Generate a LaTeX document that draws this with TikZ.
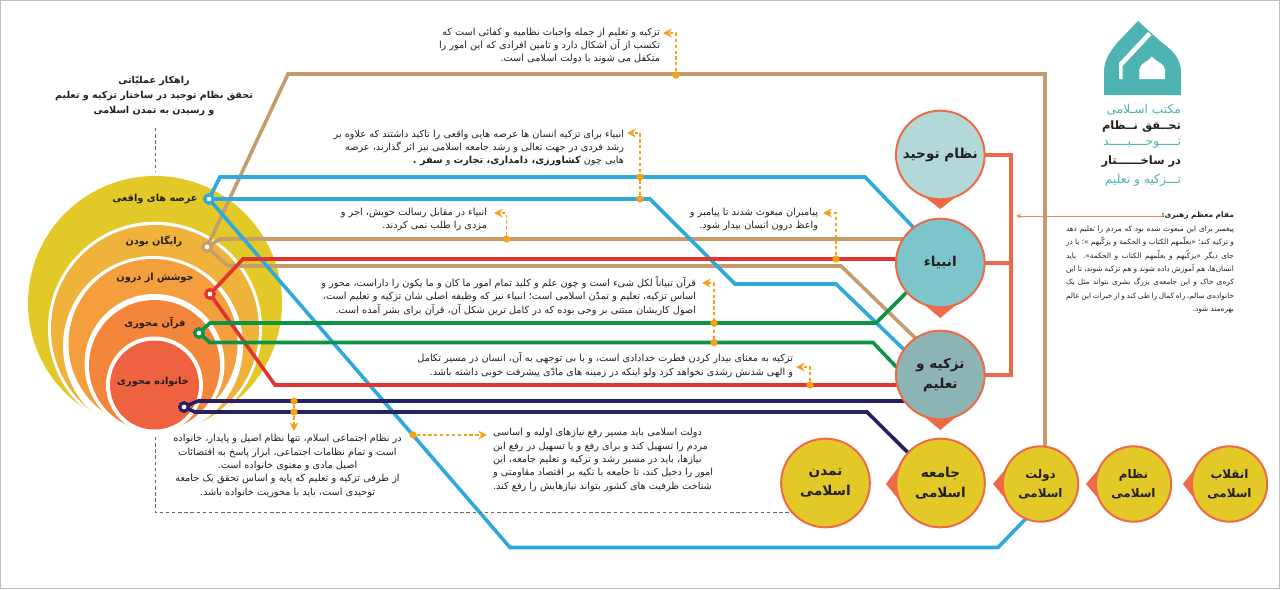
\documentclass[tikz,border=0pt]{standalone}
\usepackage{fontspec}
\usetikzlibrary{arrows.meta,backgrounds}
\TeXXeTstate=1
\newfontfamily\arabicfont[Script=Arabic]{DejaVu Sans}
\newcommand{\fa}[1]{\beginR #1\endR}
\newcommand{\faj}[1]{\hbox to 126pt{\beginR #1\endR}}
\definecolor{cyel}{HTML}{E3C928}
\definecolor{cam}{HTML}{EFB23B}
\definecolor{cor}{HTML}{F59E3E}
\definecolor{cdo}{HTML}{F3863A}
\definecolor{cre}{HTML}{EE6240}
\definecolor{coral}{HTML}{EE6A47}
\definecolor{lblue}{HTML}{2FA8DD}
\definecolor{ltan}{HTML}{C69C6D}
\definecolor{lred}{HTML}{E1332F}
\definecolor{lgreen}{HTML}{0C9444}
\definecolor{lnavy}{HTML}{262262}
\definecolor{ann}{HTML}{F7A11A}
\definecolor{teal}{HTML}{4DB3B3}
\definecolor{ink}{HTML}{231F20}
\tikzset{
  every node/.style={inner sep=0pt,outer sep=0pt,text=ink},
  body/.style={font=\arabicfont\fontsize{7.3}{10}\selectfont},
  lab/.style={font=\arabicfont\bfseries\fontsize{7.3}{10}\selectfont},
  big/.style={circle,draw=coral,line width=1.5pt,minimum size=66.5pt,align=center,
     font=\arabicfont\bfseries\fontsize{10.2}{15}\selectfont},
  small/.style={circle,draw=coral,fill=cyel,line width=1.5pt,minimum size=56.5pt,align=center,
     font=\arabicfont\bfseries\fontsize{8.9}{14}\selectfont},
  ptr/.style={fill=coral},
  stn/.style={circle,fill=white,minimum size=6.4pt,line width=2.4pt,draw=#1},
  metro/.style={draw=#1,line width=2.7pt,line join=miter},
  gdash/.style={draw=black!60,line width=0.75pt,dash pattern=on 2.6pt off 2pt},
  anndot/.style={circle,fill=ann,minimum size=5.5pt},
  annl/.style={draw=ann,line width=1pt,dash pattern=on 2.4pt off 2pt,-{Stealth[length=6.5pt,width=6.5pt]}},
  logot/.style={font=\arabicfont\fontsize{9.2}{10}\selectfont,anchor=east},
  logob/.style={font=\arabicfont\bfseries\fontsize{8.6}{10}\selectfont,anchor=east},
}
\begin{document}
\begin{tikzpicture}[x=0.75pt,y=-0.75pt]
\useasboundingbox (0,0) rectangle (1280,589);
\draw[black!25,line width=0.75pt] (0.5,0.5) rectangle (1279.5,588.5);

% big nodes
\node[big,fill=cyel] (jm) at (940.5,483) {\fa{جامعه}\\\fa{اسلامی}};
\node[big,fill=cyel] (tm) at (825.5,483) {\fa{تمدن}\\\fa{اسلامی}};
\node[small] (dl) at (1040.5,484) {\fa{دولت}\\\fa{اسلامی}};
\node[small] (nz) at (1133.5,484) {\fa{نظام}\\\fa{اسلامی}};
\node[small] (eq) at (1229.5,484) {\fa{انقلاب}\\\fa{اسلامی}};
\node[big,fill={rgb,255:red,179;green,216;blue,216}] (nt) at (940.3,155) {\fa{نظام توحید}};
\node[big,fill={rgb,255:red,123;green,197;blue,203}] (nb) at (940.3,263) {\fa{انبیاء}};
\node[big,fill={rgb,255:red,140;green,180;blue,181}] (tt) at (940.3,375) {\fa{تزکیه و}\\\fa{تعلیم}};

% stations
\node[stn=lblue] (sb) at (209,199) {};
\node[stn=ltan] (st) at (207,247) {};
\node[stn=lred] (sr) at (210,294) {};
\node[stn=lgreen] (sg) at (199,333) {};
\node[stn=lnavy] (sn) at (184,407) {};

\begin{scope}[on background layer]
  % nested circles
  \fill[cyel] (155,303) circle[radius=127];
  \fill[white] (155,328.7) circle[radius=107];
  \fill[cam] (155,329) circle[radius=104];
  \fill[white] (153,346) circle[radius=90];
  \fill[cor] (153,343.5) circle[radius=84.5];
  \fill[white] (154.5,364) circle[radius=70];
  \fill[cdo] (154.5,365.5) circle[radius=65.5];
  \fill[white] (154.5,385) circle[radius=48.5];
  \fill[cre] (154.5,385) circle[radius=44.5];
  % metro lines
  \coordinate (tk) at (1045,74);
  \draw[metro=ltan] (st.center) -- (288,74) -- (tk) -- (tk |- dl.center);
  \draw[metro=ltan] (st.center) -- (220,239) -- (nb.center |- 0,239);
  \draw[metro=ltan] (st.center) -- (228,266) -- (841,266) -- (tt.124);
  \draw[metro=lblue] (sb.center) -- (220,177) -- (865,177) -- (nb.127);
  \draw[metro=lblue] (sb.center) -- (650,199) -- (735,284) -- (836,284) -- (tt.145);
  \draw[metro=lblue] (sb.center) -- (510,547.5) -- (998,547.5) -- (dl.247);
  \draw[metro=lred] (sr.center) -- (243,259) -- (nb.center |- 0,259);
  \draw[metro=lred] (sr.center) -- (275,385) -- (tt.center |- 0,385);
  \draw[metro=lgreen] (sg.center) -- (210,323) -- (876,323) -- (nb.221);
  \draw[metro=lgreen] (sg.center) -- (210,342.5) -- (873,342.5) -- (tt.170);
  \draw[metro=lnavy] (sn.center) -- (198,401) -- (tt.center |- 0,401);
  \draw[metro=lnavy] (sn.center) -- (195,412) -- (867,412) -- (jm.137);
  % pointers
  \fill[ptr] (nt.248) -- (940.3,209) -- (nt.292) -- cycle;
  \fill[ptr] (nb.248) -- (940.3,318) -- (nb.292) -- cycle;
  \fill[ptr] (tt.248) -- (940.3,430) -- (tt.292) -- cycle;
  \fill[ptr] (jm.155) -- (886,484) -- (jm.205) -- cycle;
  \fill[ptr] (dl.155) -- (993,484) -- (dl.205) -- cycle;
  \fill[ptr] (nz.155) -- (1086,484) -- (nz.205) -- cycle;
  \fill[ptr] (eq.155) -- (1183,484) -- (eq.205) -- cycle;
  % bracket
  \draw[draw=coral,line width=2.3pt] (nt.east) -- (1011,155) -- (1011,375) -- (tt.east);
  \draw[draw=coral,line width=2.3pt] (nb.east) -- (1011,263);
  % dashed grey
  \coordinate (gd1) at (155,128);
  \coordinate (gd2) at (155,172);
  \draw[gdash] (gd1) -- (gd2);
  \coordinate (gd3) at (155,437);
  \draw[gdash] (gd3) -- (155,512) -- (tm.center |- 0,512);
\end{scope}

% circle labels
\node[lab] (l1) at (155,199) {\fa{عرصه های واقعی}};
\node[lab] (l2) at (154,241) {\fa{رایگان بودن}};
\node[lab] (l3) at (155,278) {\fa{جوشش از درون}};
\node[lab] (l4) at (155,323) {\fa{قرآن محوری}};
\node[lab] (l5) at (153,382) {\fa{خانواده محوری}};

% title
\node[align=center,font=\arabicfont\bfseries\fontsize{7.2}{11.2}\selectfont] (title) at (154,96)
  {\fa{راهکار عملیّاتی}\\\fa{تحقق نظام توحید در ساختار تزکیه و تعلیم}\\\fa{و رسیدن به تمدن اسلامی}};

% annotations
\node[anndot] (a1d) at (676,75) {};
\coordinate (a1c) at (676,33); \coordinate (a1e) at (663,33);
\draw[annl] (a1d) -- (a1c) -- (a1e);
\node[anndot] (a2d) at (640,199) {};
\node[anndot] (a2b) at (640,177) {};
\coordinate (a2c) at (640,133); \coordinate (a2e) at (627,133);
\draw[annl] (a2d) -- (a2c) -- (a2e);
\node[anndot] (a3d) at (506.5,239) {};
\coordinate (a3c) at (506.5,213); \coordinate (a3e) at (494,213);
\draw[annl] (a3d) -- (a3c) -- (a3e);
\node[anndot] (a4d) at (836,259) {};
\coordinate (a4c) at (836,213); \coordinate (a4e) at (823,213);
\draw[annl] (a4d) -- (a4c) -- (a4e);
\node[anndot] (a5d) at (714,342.5) {};
\node[anndot] (a5b) at (714,323) {};
\coordinate (a5c) at (714,283); \coordinate (a5e) at (702,283);
\draw[annl] (a5d) -- (a5c) -- (a5e);
\node[anndot] (a6d) at (810,385) {};
\coordinate (a6c) at (810,367); \coordinate (a6e) at (796,367);
\draw[annl] (a6d) -- (a6c) -- (a6e);
\node[anndot] (a7d) at (294,401) {};
\node[anndot] (a7b) at (294,412) {};
\coordinate (a7e) at (294,431);
\draw[annl] (a7d) -- (a7e);
\node[anndot] (a8d) at (413,435) {};
\coordinate (a8e) at (487,435);
\draw[annl] (a8d) -- (a8e);

% texts
\node[body,align=right,anchor=east] (t1) at (660,46)
 {\fa{تزکیه و تعلیم از جمله واجبات نظامیه و کفائی است که}\\
  \fa{تکسب از آن اشکال دارد و تامین افرادی که این امور را}\\
  \fa{متکفل می شوند با دولت اسلامی است.}};
\node[body,align=right,anchor=east] (t2) at (624,148)
 {\fa{انبیاء برای تزکیه انسان ها عرصه هایی واقعی را تاکید داشتند که علاوه بر}\\
  \fa{رشد فردی در جهت تعالی و رشد جامعه اسلامی نیز اثر گذارند، عرصه}\\
  \fa{هایی چون {\bfseries کشاورزی، دامداری، تجارت} و {\bfseries سفر .}}};
\node[body,align=right,anchor=east] (t3) at (487,219.5)
 {\fa{انبیاء در مقابل رسالت خویش، اجر و}\\\fa{مزدی را طلب نمی کردند.}};
\node[body,align=right,anchor=east] (t4) at (818,219.5)
 {\fa{پیامبران مبعوث شدند تا پیامبر و}\\\fa{واعظ درون انسان بیدار شود.}};
\node[body,align=right,anchor=east] (t5) at (696,296)
 {\fa{قرآن تبیاناً لکل شیء است و چون علم و کلید تمام امور ما کان و ما یکون را داراست، محور و}\\
  \fa{اساس تزکیه، تعلیم و تمدّن اسلامی است؛ انبیاء نیز که وظیفه اصلی شان تزکیه و تعلیم است،}\\
  \fa{اصول کاریشان مبتنی بر وحی بوده که در کامل ترین شکل آن، قرآن برای بشر آمده است.}};
\node[body,align=right,anchor=east] (t6) at (793,365)
 {\fa{تزکیه به معنای بیدار کردن فطرت خدادادی است، و با بی توجهی به آن، انسان در مسیر تکامل}\\
  \fa{و الهی شدنش رشدی نخواهد کرد ولو اینکه در زمینه های مادّی پیشرفت خوبی داشته باشد.}};
\node[body,align=center] (t7) at (287.5,466)
 {\fa{در نظام اجتماعی اسلام، تنها نظام اصیل و پایدار، خانواده}\\
  \fa{است و تمام نظامات اجتماعی، ابزار پاسخ به اقتضائات}\\
  \fa{اصیل مادی و معنوی خانواده است.}\\
  \fa{از طرفی تزکیه و تعلیم که پایه و اساس تحقق یک جامعه}\\
  \fa{توحیدی است، باید با محوریت خانواده باشد.}};
\node[body,align=left,anchor=west] (t8) at (493,460)
 {\fa{دولت اسلامی باید مسیر رفع نیازهای اولیه و اساسی}\\
  \fa{مردم را تسهیل کند و برای رفع و یا تسهیل در رفع این}\\
  \fa{نیازها، باید در مسیر رشد و تزکیه و تعلیم جامعه، این}\\
  \fa{امور را دخیل کند، تا جامعه با تکیه بر اقتصاد مقاومتی و}\\
  \fa{شناخت ظرفیت های کشور بتواند نیازهایش را رفع کند.}};

% quote
\node[anchor=east,font=\arabicfont\bfseries\fontsize{5.6}{10}\selectfont] (qt) at (1234,216) {\fa{مقام معظم رهبری:}};
\coordinate (qe) at (1016,216);
\draw[draw=coral!80,line width=0.6pt,-{Stealth[length=4pt,width=3.5pt]}] (qt) -- (qe);
\node[anchor=north east,align=right,font=\arabicfont\fontsize{5.5}{10}\selectfont] (qb) at (1234,226)
 {\faj{پیغمبر برای این مبعوث شده بود که مردم را تعلیم دهد}\\
  \faj{و تزکیه کند؛ «یعلّمهم الکتاب و الحکمة و یزکّیهم »؛ یا در}\\
  \faj{جای دیگر «یزکّیهم و یعلّمهم الکتاب و الحکمة». باید}\\
  \faj{انسان‌ها، هم آموزش داده شوند و هم تزکیه شوند، تا این}\\
  \faj{کره‌ی خاک و این جامعه‌ی بزرگ بشری بتواند مثل یک}\\
  \faj{خانواده‌ی سالم، راه کمال را طی کند و از خیرات این عالم}\\
  \fa{بهره‌مند شود.}};

% logo
\fill[teal] (1138,21) -- (1160,41) .. controls (1172,50) and (1181,58) .. (1181,72) -- (1181,95) -- (1104,95) -- (1104,72) .. controls (1104,58) and (1112,50) .. (1117,43) -- cycle;
\fill[white] (1119,79) -- (1119,63) -- (1148,32) -- (1151.5,35) -- (1122.5,66) -- (1122.5,79) -- cycle;
\fill[white] (1151.7,56.7) .. controls (1156,62) and (1165,63) .. (1165,70) -- (1165,79) -- (1139.3,79) -- (1139.3,70) .. controls (1139.3,63) and (1148,62) .. (1151.7,56.7) -- cycle;
\node[logot,text=teal] (g1) at (1181,110) {\fa{مکتب اسـلامی}};
\node[logob] (g2) at (1181,127) {\fa{تحــقق نــظام}};
\node[logot,text=teal] (g3) at (1181,144) {\fa{تـــــوحــــیـــــد}};
\node[logob] (g4) at (1181,162) {\fa{در ساخــــــتار}};
\node[logot,text=teal] (g5) at (1181,180) {\fa{تـــزکیه و تعلیم}};
\end{tikzpicture}
\end{document}
